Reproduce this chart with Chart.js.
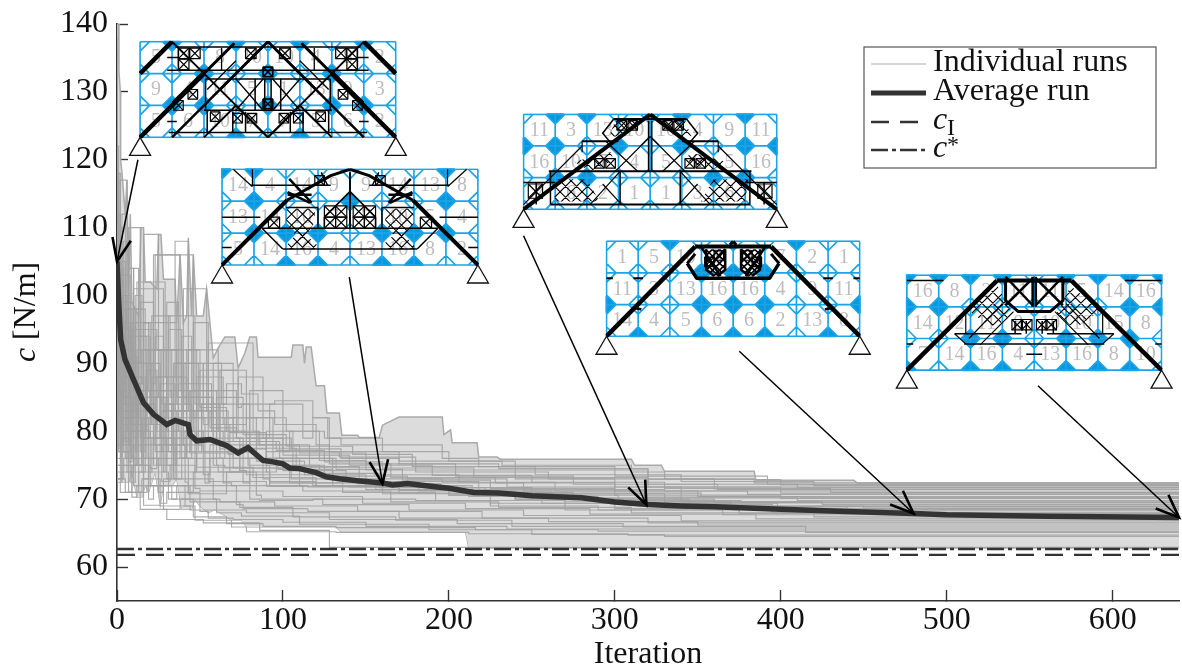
<!DOCTYPE html>
<html>
<head>
<meta charset="utf-8">
<title>Convergence</title>
<script src="https://cdn.jsdelivr.net/npm/chart.js@4"></script>
<style>
  html, body { margin: 0; padding: 0; background: #fff; }
  canvas { display: block; }
</style>
</head>
<body>
<canvas id="chart" width="1182" height="671"></canvas>
<script>
// tick values
const xTicks = [0, 100, 200, 300, 400, 500, 600];
const yTicks = [60, 70, 80, 90, 100, 110, 120, 130, 140];

// envelope of all the runs
const envUpper = [[0,140],[1,140],[1.2,133],[2,130],[2.2,120],[3,118],[5,112],[6,117],[7,100],[8,112],[9,99],[13,97],[14.5,110],[16,110],[17,102],[20,102],[24,101],[25,109],[26.5,109],[28,102.4],[35,102.4],[36,96],[38,106],[40,96],[42,97],[43,108.5],[45,97],[46,106],[48,97],[52,97],[54,101],[56,96],[58,90.8],[61,92.3],[65,93.9],[71,93.9],[73,89.3],[77,91.5],[80,93.9],[84,93.9],[85,90.9],[105,90.9],[106,92.7],[112,92.7],[113,90],[114,92.4],[117,92.4],[120,86.7],[125,86.7],[126.5,82.7],[134,82.7],[135.5,79.4],[145,79.4],[146,79.1],[158,79.1],[160,80.9],[170,82.1],[196,82.1],[197,79.5],[201,80.2],[202,78.3],[217,78.3],[218,76.2],[229,76.2],[231,75.9],[310,75.9],[312,75],[328,75],[330,74.1],[384,74.1],[385,72.8],[444,72.8],[446,72.4],[640,72.4]];
const envLower = [[0,77.5],[2,77.5],[3,72.5],[7,72.5],[9,74],[12,70.3],[15,70.3],[17,72],[19,71],[23,74],[26,69.1],[28,72],[33,72],[36,73],[39,68.5],[45,68.5],[47,70],[50,69],[55,68],[59,68.5],[62,68],[66,67.4],[69,66.9],[75,66.9],[78,65.9],[132,65.9],[135,65.2],[210,65.2],[212,62.8],[640,62.8]];

// individual runs as [iteration, value]
const run01 = [[0,140],[1,104],[3,96],[5,112],[7,93],[14,110],[16,90],[25,109],[27,85],[45,84],[60,83],[78,80],[105,79],[135,77.4],[170,76],[232,75.6],[310,75],[330,74],[384,73],[445,72.4],[640,72.4]];
const run02 = [[0,133],[1,108],[2,118],[3,92],[6,100],[9,88],[20,96],[23,87],[38,106],[40,86],[57,85],[76,81],[102,79.5],[142,77.8],[178,76.6],[252,74.8],[340,73.6],[420,72.6],[500,72],[640,72]];
const run03 = [[0,138],[1,122],[2,100],[6,117],[7,95],[12,90],[29,102],[35,88],[43,108],[45,83],[70,82],[96,78.5],[125,77.2],[160,75.5],[215,74.6],[320,73.2],[410,72.2],[460,71.7],[640,71.7]];
const run04 = [[0,136],[1,118],[2,90],[8,103],[11,86],[24,95],[31,92],[47,97],[50,84],[66,83.5],[86,80],[110,78],[150,76.8],[204,75.2],[275,73.4],[362,72.2],[470,71.4],[640,71.4]];
const run05 = [[0,131],[1,112],[2,95],[5,88],[13,98],[16,86],[36,96],[40,85],[54,101],[56,83],[72,80.5],[100,79],[140,76.5],[190,75],[250,73.5],[330,72.5],[430,71.6],[520,71],[640,71]];
const run06 = [[0,125],[1,110],[2,92],[4,102],[6,85],[18,94],[22,84],[46,106],[48,82],[64,88],[68,81],[90,79.8],[128,77],[165,75.2],[228,73.2],[300,72.4],[380,71.2],[560,70.7],[640,70.7]];
const run07 = [[0,106],[3,89],[7,98],[10,84],[28,101],[35,83],[52,90],[55,81],[82,93],[85,80],[116,78],[155,74.7],[206,73.6],[264,72.5],[350,71.2],[450,70.4],[640,70.4]];
const run08 = [[0,104],[2,86],[9,99],[12,83],[26,92],[30,82],[61,92],[64,80],[98,78.5],[132,76],[172,74.4],[225,72.8],[300,71.6],[400,70.6],[510,70.1],[640,70.1]];
const run09 = [[0,101],[2,88],[4,94],[7,82],[21,90],[24,81],[40,88],[44,80],[72,86],[76,79],[108,77.5],[146,74.8],[196,73],[245,72.4],[318,71.2],[410,70.3],[535,69.8],[640,69.8]];
const run10 = [[0,99],[3,85],[11,92],[13,81],[33,86],[37,80],[58,85],[62,78.5],[90,77.4],[122,75],[158,73.8],[218,72.6],[275,71],[360,70],[480,69.5],[640,69.5]];
const run11 = [[0,97],[2,84],[6,90],[8,80],[17,88],[20,79],[48,86],[51,78],[80,84],[84,77],[113,75.6],[150,73.6],[205,72],[262,71.2],[340,70.2],[425,69.6],[545,69.2],[640,69.2]];
const run12 = [[0,95],[1,83],[10,89],[12,79],[29,85],[33,78],[67,83],[70,76.6],[100,76],[138,74.2],[182,72.6],[240,71.2],[300,70],[398,69.4],[505,68.9],[640,68.9]];
const run13 = [[0,93],[2,82],[5,87],[8,78.5],[23,84],[27,77],[42,83],[45,76],[94,82],[97,75.5],[130,74.4],[170,72],[212,71.3],[290,70.4],[370,69.4],[470,68.6],[640,68.6]];
const run14 = [[0,92],[3,81],[14,86],[17,77],[38,82],[41,76],[60,80],[65,75],[105,74.6],[150,73],[200,71.4],[256,70.6],[332,69.4],[440,68.9],[575,68.3],[640,68.3]];
const run15 = [[0,90],[2,80],[9,85],[11,76],[30,81],[34,75],[74,79],[78,74.2],[118,73.6],[160,72],[225,70.8],[300,69.4],[395,68.6],[520,68],[640,68]];
const run16 = [[0,88],[1,79],[7,84],[9,75.5],[20,80],[24,74.5],[52,78],[56,73.6],[88,76],[92,73],[136,72.4],[192,71],[270,69.8],[365,68.4],[490,67.7],[640,67.7]];
const run17 = [[0,87],[3,78],[12,83],[15,75],[35,79],[39,73],[64,76],[69,72.4],[112,72],[165,71.2],[230,69.6],[310,68.8],[420,68],[565,67.4],[640,67.4]];
const run18 = [[0,86],[2,77.5],[6,81],[10,74],[27,78],[32,72.6],[47,75],[50,71.6],[100,71.2],[148,70.4],[210,69.4],[285,68.6],[385,67.8],[500,67.1],[640,67.1]];
const run19 = [[0,85],[4,77],[16,80],[19,73],[43,76],[46,71],[84,74],[87,70.6],[124,70],[176,69.2],[245,68.4],[340,67.6],[455,66.8],[640,66.8]];
const run20 = [[0,84],[3,76],[8,79],[11,72.5],[25,76],[28,71],[58,73],[62,70],[95,69.6],[145,69],[220,68.2],[320,67.2],[410,66.5],[640,66.5]];
const run21 = [[0,83],[2,75],[10,78],[13,72],[31,74],[36,70],[72,72],[76,69.2],[115,68.6],[170,68.2],[260,67.2],[350,66.7],[490,66.2],[640,66.2]];
const run22 = [[0,82],[3,74],[7,77],[9,71],[19,75],[22,70],[41,72],[44,69],[78,68.4],[128,68],[205,67],[305,66.4],[425,65.9],[640,65.9]];
const run23 = [[0,81],[4,73],[13,76],[15,71],[26,73],[30,69.4],[50,71],[55,68.2],[70,67.2],[100,67],[150,66.6],[235,66],[345,65.6],[640,65.6]];
const run24 = [[0,80],[3,73],[9,75],[12,70.3],[28,72],[38,68.5],[46,70],[66,67.4],[88,66.4],[132,66],[216,65.8],[290,65.5],[400,65.3],[640,65.3]];
const run25 = [[0,79],[3,72.5],[16,74],[26,69.1],[47,69],[69,66.9],[78,65.9],[132,65.2],[212,65.1],[308,64.9],[500,64.7],[640,64.7]];
const run26 = [[0,78],[5,73],[18,71],[33,72],[60,70],[75,68],[110,67.5],[188,66.3],[250,65.5],[330,64.8],[460,64.5],[640,64.5]];
const run27 = [[0,90],[1,82],[8,77],[22,80],[34,75],[55,74],[90,72.6],[140,71.9],[210,71.8],[260,71],[345,70],[450,69],[640,68.7]];
const run28 = [[0,96],[2,84],[15,82],[27,79],[48,77],[82,74.7],[120,73.2],[158,71.9],[222,71.7],[302,70.6],[376,69.8],[530,69.5],[640,69.5]];
const run29 = [[0,100],[1,87],[9,83],[26,81],[44,79],[70,76.8],[104,74.6],[152,72.4],[214,72],[280,70.9],[352,70.9],[412,70.4],[640,70.3]];
const run30 = [[0,108],[2,92],[11,85],[24,83],[52,80],[79,77],[92,75],[156,71.9],[240,71.4],[330,71.4],[470,71.2],[640,71]];
const run31 = [[0,86],[2,75],[14,71],[30,68.5],[52,67],[86,66.5],[128,65.4],[212,62.9],[268,62.9],[640,62.9]];
const run32 = [[0,94],[3,79],[20,75],[44,72],[74,69.6],[106,68.8],[168,67.4],[238,66.9],[318,66],[415,66],[540,65.1],[640,65.1]];
const run33 = [[0,115],[1,95],[3,110],[4,92],[6,108],[7,90],[10,104],[11,89],[15,100],[16,87],[19,96],[21,86],[32,97],[34,85],[41,90],[43,84],[50,92],[52,84],[63,90],[66,84],[75,87],[85,85.5],[95,83],[120,81],[128,78],[170,77],[230,75.2],[320,74.5],[400,72.9],[640,72.1]];
const run34 = [[0,103],[1,90],[2,102],[4,88],[8,100],[9,86],[13,95],[14,84],[22,99],[23,83],[28,94],[30,83],[37,99],[39,82],[45,94],[46,80],[55,96],[58,79],[70,90],[73,80],[88,88],[92,79],[112,84],[118,79],[128,82],[134,77],[180,76.2],[260,74],[360,73],[640,71.5]];
const run35 = [[0,98],[1,85],[4,96],[5,84],[9,92],[11,82],[17,98],[18,80],[26,90],[27,79],[33,92],[34,78],[42,88],[44,77],[60,86],[62,78],[78,89],[80,77],[100,86],[104,77],[122,80],[150,75.7],[240,74.3],[300,73],[400,71.8],[640,70.9]];
const run36 = [[0,107],[1,88],[3,100],[4,86],[7,96],[8,84],[12,91],[13,82],[20,94],[21,81],[30,88],[31,80],[39,95],[40,78],[49,90],[51,77],[62,84],[65,76],[84,82],[90,76],[106,80],[125,75],[175,73.4],[235,73],[340,71.8],[640,70.2]];
const run37 = [[0,91],[1,80],[3,91],[4,79],[7,88],[8,78],[11,96],[12,77],[16,90],[18,76],[24,89],[26,75],[35,87],[36,75],[47,83],[48,74],[68,80],[74,74],[90,78],[96,74],[130,76],[145,73],[195,72.3],[250,71.7],[330,70.8],[640,69.6]];
const run38 = [[0,89],[1,78],[2,88],[3,77],[5,94],[6,76],[10,85],[12,75],[15,88],[17,74],[28,85],[29,74],[34,84],[36,73],[53,82],[56,72.4],[76,78],[80,72.4],[110,76],[115,72],[155,71.8],[200,71.8],[270,70.6],[370,69.7],[640,69]];
const run39 = [[0,102],[1,86],[2,94],[3,83],[6,88],[7,81],[9,93],[10,80],[14,87],[15,79],[22,86],[23,78],[31,85],[33,77],[39,80],[42,76],[58,79],[61,75],[92,74],[120,72.6],[170,71.9],[240,70.9],[305,70],[395,69.2],[640,68.5]];
const run40 = [[0,94],[1,81],[3,86],[4,78],[8,82],[9,76],[13,85],[15,75],[19,82],[21,74],[30,79],[33,73],[41,78],[43,72.5],[66,70.8],[80,74],[86,70],[118,69.8],[180,70],[225,69.8],[290,69],[375,68.4],[640,67.9]];
const run41 = [[0,120],[1,97],[2,108],[3,90],[4,104],[5,87],[7,95],[8,85],[11,90],[12,84],[18,84],[40,92],[42,83],[48,92],[50,83],[73,89],[75,83.5],[95,84],[118,84.5],[127,82],[135,79],[196,78],[218,76],[300,74.8],[392,73.4],[640,72.2]];
const run42 = [[0,128],[1,100],[2,112],[3,96],[5,105],[6,92],[9,98],[10,89],[13,104],[15,87],[20,92],[22,85],[36,92],[37,84],[57,87],[60,80],[76,85],[78,81],[102,82],[125,80],[160,79],[200,77],[240,75.6],[320,74.3],[640,71.8]];
const runs = [run01,run02,run03,run04,run05,run06,run07,run08,run09,run10,run11,run12,run13,run14,run15,run16,run17,run18,run19,run20,run21,run22,run23,run24,run25,run26,run27,run28,run29,run30,run31,run32,run33,run34,run35,run36,run37,run38,run39,run40,run41,run42];

// average over all the runs
const averageRun = [[0,105],[1,99],[2.2,93.5],[4.8,90.6],[10,87.6],[16,84.2],[22,82.5],[30,81],[35,81.6],[43,81],[44,79.5],[48,78.6],[56,78.8],[66,77.9],[73,76.8],[79,77.6],[88,75.7],[94,75.5],[100,75.2],[104,74.6],[110,74.5],[120,73.9],[126,73.3],[134,73],[145,72.7],[160,72.4],[166,72.1],[175,72.3],[185,72],[200,71.6],[215,71],[230,70.9],[250,70.5],[280,70.2],[300,69.6],[320,69.2],[340,69],[360,68.9],[380,68.7],[400,68.5],[440,68.2],[480,67.9],[500,67.7],[560,67.5],[640,67.3]];

const cI = 61.8;
const cStar = 62.65;

// insets: corners in chart units, 8 x 3 cells each
const insetLeft = [13.9, 63.3, 245, 295, 476];
const insetRight = [168, 217.5, 397.6, 447.6, 629.5];
const insetTop = [137.4, 118.6, 126.7, 108, 103];
const insetBottom = [123.3, 104.5, 112.7, 94, 89];

const insetNumbers = [
  [5,4,8,10,10,4,8,2, 9,4,11,5,1,13,9,3, 5,6,10,7,7,5,6,2],
  [14,4,14,9,9,14,13,8, 13,14,10,7,7,10,5,4, 5,14,16,4,13,16,8,2],
  [11,3,13,10,10,4,9,11, 16,10,7,4,5,8,5,16, 7,6,2,1,1,3,6,7],
  [1,5,10,3,3,7,2,1, 11,3,13,16,16,4,9,11, 14,4,5,6,6,2,13,8],
  [16,8,2,11,11,5,14,16, 14,12,11,8,10,10,15,8, 7,14,16,4,13,16,8,10]
];

// grid vertices [col,row] with a solid diamond
const insetDiamonds = [
  [[1,0],[3,0],[5,0],[7,0],[2,1],[4,1],[6,1],[1,2],[2,2],[4,2],[6,2],[7,2],[3,3],[5,3]],
  [[1,0],[7,0],[0,0],[1,1],[4,1],[7,1],[1,2],[2,2],[3,2],[5,2],[6,2],[7,2],[2,3],[3,3],[5,3],[6,3]],
  [[1,0],[2,0],[5,0],[7,0],[0,1],[1,1],[3,1],[5,1],[7,1],[8,1],[1,2],[2,2],[6,2],[7,2]],
  [[2,0],[6,0],[3,1],[4,1],[5,1],[0,2],[3,2],[4,2],[5,2],[8,2],[1,3],[3,3],[4,3],[5,3],[7,3]],
  [[0,0],[1,0],[2,0],[3,0],[5,0],[6,0],[7,0],[8,0],[0,1],[1,1],[7,1],[8,1],[2,2],[3,2],[5,2],[6,2],[7,2],[0,3],[2,3],[3,3],[5,3],[6,3],[7,3]]
];

// truss members, left half only, mirrored about col 4: [width, u,v, u,v, ...]
const insetMembers = [
  [[4.5,0,3,2,1],[3,2,1,2.95,0.05],[4.5,0,1,1,0],[2.5,4,0,1,3],[2.5,4,0,5.5,1.5],[2,1,0,4,3],[2,2,3,3,2,4,3],
   [1.5,1.1,.17,4,.17],[1.5,.85,.9,4,.9],[1.5,2.05,1.17,4,1.17],[1.5,2,2.15,4,2.15],[1.5,.9,2.85,4,2.85],
   [1.5,2.05,1.17,2.05,2.15],[1.5,3.6,1.17,3.6,2.15],[1.5,3.9,1.17,3.9,2.15],[1.5,1.2,.2,1.2,.8],[1.5,2.1,2.15,2.1,2.85],
   [1.5,.85,2.5,1.15,2.5],[1.5,.85,.5,1.2,.5],[1.5,2.9,2.2,2.9,2.85],[1.5,3.3,2.2,3.3,2.85],[1.2,1,1.9,2,.9],
   [1.3,3,1.17,3.85,2.15],[1.3,3.85,1.17,3,2.15],[1.3,2.55,.2,2.55,.9],[1.3,2.1,1.5,3,.6]],
  [[4,0,3,2.03,.97],[3,2.03,.97,3.4,.2,4,0],[2.5,2.05,.72,2.75,1.05],[2.5,2.05,.8,2.8,.8],[2.5,2.1,.3,2.8,1.05],
   [1.5,.9,.5,3.4,.5],[1.5,0,1.5,1.2,1.5],[1.5,0,2.45,.3,2.45],[1.5,1.25,1.85,4,1.85],[1.5,1.9,2.5,4,2.5],
   [1.2,.35,0,.95,.55],[1.2,.95,0,.95,.5],[1.5,1.25,1.85,1.9,2.5],[1.5,3.2,1.5,4,.7],[1.5,3.2,1.5,3.2,1.85],
   [1.5,2,1.2,3,1.2],[1.5,3,1.2,3,1.85],[1.5,3.1,.1,3.3,.5],[1.5,4,.1,4,1.85]],
  [[4,0,3,4,0],[2,2.85,.15,4,.15],[2,1.85,.85,3,.85],[2,.8,1.8,4,1.8],[2,.85,2.85,4,2.85],[1.5,0,2.15,1,2.15],
   [1.5,2.85,.15,2.5,.6,2.8,.95],[1.5,.85,1.8,.85,2.85],[1.2,2.9,1.8,4,.7],[1.2,2.6,.85,3.6,1.8],[1.2,2.1,2.85,3.05,1.8],
   [1.5,3.05,1.8,3.05,2.85],[1.5,.4,2.15,.4,2.85],[1.2,0,2.85,1.85,1],[1.5,3.95,.2,3.95,1.8],[1.2,3.1,2.85,2.5,2.2],[1.2,1.85,.85,1.85,1.2]],
  [[4.5,0,3,2.8,.17],[4,2.8,.17,4,.17],[3.5,2.55,.7,2.85,1.17,4,1.17],[3,2.55,.7,2.8,.4],[2.5,3.15,.25,3.15,.9,3.4,1.1],
   [2.5,3.75,.25,3.75,.9,3.5,1.1],[2.5,3.15,.9,3.75,.25],[2.5,3,.2,3.6,1.1],[2.5,.8,2.1,1.1,2.15],[2,0,1.17,.2,1.17],[2,.85,1.17,1.15,1.17],[3,3.9,.12,4,0]],
  [[4.5,0,3,2.83,.17],[4,2.83,.17,4,.17],[3,3.1,.17,3.1,.8,3.5,1.15,4,1.15],[2.5,3.1,.05,3.95,.95],[2.5,3.95,.1,3.1,.95],
   [2.5,3.95,.05,3.95,1],[1.2,1.95,2,3,.9],[1.2,2.3,2.2,3.35,1.15],[1.5,1.8,2.17,4,2.17],[1.5,0,.17,1.15,.17],[1.5,0,2.17,.2,2.17],
   [1.3,1.5,1.85,3.6,1.85],[1.5,3.75,2.5,4,2.5],[1.2,1.85,1.15,1.85,1.85],[1.2,1.5,1.85,1.85,2.17],[1.5,3.4,1.45,3.4,1.85],[1.5,3.75,1.45,3.75,1.85]]
];

// hatched patches, left half only: list of polygons in cell units
const insetHatch = [
  [],
  [[2.03,1.23,2.9,1.23,2.9,1.65,2.5,2.3,2,1.7],[1.9,2.5,2.45,1.9,3,2.4,2.9,2.5]],
  [[.9,2.05,2,2.05,2.4,2.75,1,2.75],[1.6,1.5,2.75,1.2,2.85,1.45,2.1,1.8],[2.9,.2,3.6,.2,3.2,.7,2.7,.7]],
  [[3.15,.25,3.75,.25,3.75,.9,3.5,1.1,3.4,1.1,3.15,.9]],
  [[1.9,1.1,2.85,.35,3.3,1.2,2.85,1.6,2.6,1.6]]
];

// little squares with a cross, left half only: [u, v, size]
const insetBoxes = [
  [[1.2,.2,.33],[1.55,.2,.33],[1.2,.55,.33],[1.5,1.5,.3],[2.2,2.2,.3],[3.3,.2,.33],[2.9,2.25,.3],[3.35,2.25,.3],[3.85,1.8,.3],[3.85,.8,.3],[1.05,1.85,.3]],
  [[1.45,1.5,.35],[3.2,1.5,.35],[3.55,1.5,.35],[3.2,1.15,.35],[3.55,1.15,.35],[2.9,.2,.3]],
  [[.15,2.2,.45],[3.3,.2,.3],[2.95,.2,.3],[2.6,1.4,.3],[2.25,1.4,.3]],
  [[3.4,.3,.3],[3.1,.5,.3]],
  [[3.3,1.4,.33],[3.6,1.4,.33]]
];

// arrows from the insets to the average curve, [iteration, value]
const arrowFrom = [[12.6,120],[140,102.7],[245,108.8],[375,91.8],[555,86.7]];
const arrowTo = [[0,105],[160,72.3],[319,69.2],[480,67.9],[640,67.3]];

const legendLabels = ['Individual runs', 'Average run', 'c', 'c'];
const serif = "'Liberation Serif', 'Times New Roman', serif";
const ink = '#111';
const grey = '#333';

function toPts(list) {
  return list.map(([x, y]) => ({ x, y }));
}

const datasets = [
  { label: 'envelope', data: toPts(envLower), borderColor: '#aaa', borderWidth: 1.2, pointRadius: 0, order: 30, fill: false },
  { label: 'envelope', data: toPts(envUpper), borderColor: '#aaa', borderWidth: 1.5, pointRadius: 0, order: 29, fill: { target: 0 }, backgroundColor: '#dcdcdc' }
];
runs.forEach((r, i) => {
  datasets.push({
    label: i === 0 ? legendLabels[0] : 'run ' + (i + 1),
    data: toPts(r), stepped: 'after',
    borderColor: 'rgba(160,160,160,0.88)', borderWidth: 1.15, pointRadius: 0, order: 10, fill: false
  });
});
datasets.push({ label: legendLabels[1], data: toPts(averageRun), borderColor: '#333', borderWidth: 5.5, pointRadius: 0, order: 1, fill: false });
datasets.push({ label: 'cI', data: [{ x: 0, y: cI }, { x: 640, y: cI }], borderColor: '#333', borderWidth: 2.4, borderDash: [18, 11], pointRadius: 0, order: 2, fill: false });
datasets.push({ label: 'c*', data: [{ x: 0, y: cStar }, { x: 640, y: cStar }], borderColor: '#333', borderWidth: 2.4, borderDash: [17, 4, 4, 4], pointRadius: 0, order: 2, fill: false });

function drawInset(ctx, chart, n) {
  const xs = chart.scales.x, ys = chart.scales.y;
  const x0 = xs.getPixelForValue(insetLeft[n]), x1 = xs.getPixelForValue(insetRight[n]);
  const y0 = ys.getPixelForValue(insetTop[n]), y1 = ys.getPixelForValue(insetBottom[n]);
  const cw = (x1 - x0) / 8, ch = (y1 - y0) / 3;
  const U = u => x0 + u * cw, V = v => y0 + v * ch;
  const a = 0.3;
  const blue = '#0a97de', lineBlue = '#1ba4e8';

  ctx.save();
  ctx.fillStyle = '#fff';
  ctx.fillRect(x0, y0, x1 - x0, y1 - y0);
  ctx.beginPath();
  ctx.rect(x0 - 1, y0 - 1, x1 - x0 + 2, y1 - y0 + 2);
  ctx.clip();

  ctx.fillStyle = blue;
  insetDiamonds[n].forEach(([i, j]) => {
    ctx.beginPath();
    ctx.moveTo(U(i - a), V(j));
    ctx.lineTo(U(i), V(j - a));
    ctx.lineTo(U(i + a), V(j));
    ctx.lineTo(U(i), V(j + a));
    ctx.closePath();
    ctx.fill();
  });

  ctx.strokeStyle = lineBlue;
  ctx.lineWidth = 1.7;
  ctx.beginPath();
  for (let i = 0; i <= 8; i++) { ctx.moveTo(U(i), V(0)); ctx.lineTo(U(i), V(3)); }
  for (let j = 0; j <= 3; j++) { ctx.moveTo(U(0), V(j)); ctx.lineTo(U(8), V(j)); }
  for (let i = 0; i < 8; i++) {
    for (let j = 0; j < 3; j++) {
      ctx.moveTo(U(i + a), V(j)); ctx.lineTo(U(i), V(j + a));
      ctx.moveTo(U(i + 1 - a), V(j)); ctx.lineTo(U(i + 1), V(j + a));
      ctx.moveTo(U(i), V(j + 1 - a)); ctx.lineTo(U(i + a), V(j + 1));
      ctx.moveTo(U(i + 1), V(j + 1 - a)); ctx.lineTo(U(i + 1 - a), V(j + 1));
    }
  }
  ctx.stroke();

  ctx.fillStyle = '#bdbdbd';
  ctx.font = '20px ' + serif;
  ctx.textAlign = 'center';
  ctx.textBaseline = 'middle';
  insetNumbers[n].forEach((num, k) => {
    ctx.fillText(String(num), U((k % 8) + 0.5), V(Math.floor(k / 8) + 0.52));
  });

  ctx.strokeStyle = '#000';
  ctx.lineJoin = 'round';
  [false, true].forEach(flip => {
    const X = u => U(flip ? 8 - u : u);
    insetHatch[n].forEach(poly => {
      ctx.save();
      ctx.beginPath();
      for (let k = 0; k < poly.length; k += 2) {
        if (k === 0) ctx.moveTo(X(poly[k]), V(poly[k + 1]));
        else ctx.lineTo(X(poly[k]), V(poly[k + 1]));
      }
      ctx.closePath();
      ctx.clip();
      ctx.lineWidth = n === 3 ? 1.6 : 1.1;
      ctx.beginPath();
      const step = n === 3 ? 7 : 11;
      for (let d = -140; d < 400; d += step) {
        ctx.moveTo(x0 + d, y0); ctx.lineTo(x0 + d + 100, y1 + 5);
        ctx.moveTo(x0 + d + 100, y0); ctx.lineTo(x0 + d, y1 + 5);
      }
      ctx.stroke();
      ctx.restore();
    });
    insetBoxes[n].forEach(([u, v, s]) => {
      const ux = flip ? 8 - u - s : u;
      ctx.lineWidth = 1.2;
      ctx.strokeRect(U(ux), V(v), s * cw, s * ch);
      ctx.beginPath();
      ctx.moveTo(U(ux), V(v)); ctx.lineTo(U(ux + s), V(v + s));
      ctx.moveTo(U(ux + s), V(v)); ctx.lineTo(U(ux), V(v + s));
      ctx.stroke();
    });
    insetMembers[n].forEach(m => {
      ctx.lineWidth = m[0];
      ctx.beginPath();
      ctx.moveTo(X(m[1]), V(m[2]));
      for (let k = 3; k < m.length; k += 2) ctx.lineTo(X(m[k]), V(m[k + 1]));
      ctx.stroke();
    });
  });
  ctx.restore();

  // supports
  [x0, x1].forEach(px => {
    ctx.beginPath();
    ctx.moveTo(px, y1);
    ctx.lineTo(px - 10.5, y1 + 18);
    ctx.lineTo(px + 10.5, y1 + 18);
    ctx.closePath();
    ctx.lineWidth = 1.3;
    ctx.strokeStyle = '#111';
    ctx.stroke();
  });
}

function drawArrow(ctx, chart, n) {
  const xs = chart.scales.x, ys = chart.scales.y;
  const ax = xs.getPixelForValue(arrowFrom[n][0]), ay = ys.getPixelForValue(arrowFrom[n][1]);
  const bx = xs.getPixelForValue(arrowTo[n][0]), by = ys.getPixelForValue(arrowTo[n][1]);
  const ang = Math.atan2(ay - by, ax - bx);
  const len = 25, spread = 22 * Math.PI / 180;
  ctx.strokeStyle = '#000';
  ctx.lineWidth = 1.5;
  ctx.beginPath();
  ctx.moveTo(ax, ay);
  ctx.lineTo(bx, by);
  ctx.stroke();
  ctx.lineWidth = 2.6;
  ctx.beginPath();
  ctx.moveTo(bx + len * Math.cos(ang + spread), by + len * Math.sin(ang + spread));
  ctx.lineTo(bx, by);
  ctx.lineTo(bx + len * Math.cos(ang - spread), by + len * Math.sin(ang - spread));
  ctx.stroke();
}

function drawLegend(ctx) {
  ctx.save();
  ctx.strokeStyle = '#555';
  ctx.lineWidth = 1.2;
  ctx.fillStyle = '#fff';
  ctx.fillRect(864, 47, 292, 121);
  ctx.strokeRect(864, 47, 292, 121);

  ctx.strokeStyle = '#aaa';
  ctx.lineWidth = 1.2;
  ctx.beginPath(); ctx.moveTo(871, 64); ctx.lineTo(926, 64); ctx.stroke();
  ctx.strokeStyle = '#333';
  ctx.lineWidth = 5;
  ctx.beginPath(); ctx.moveTo(871, 93); ctx.lineTo(926, 93); ctx.stroke();
  ctx.lineWidth = 2.4;
  ctx.setLineDash([18, 11]);
  ctx.beginPath(); ctx.moveTo(871, 122); ctx.lineTo(926, 122); ctx.stroke();
  ctx.setLineDash([17, 4, 4, 4]);
  ctx.beginPath(); ctx.moveTo(871, 150); ctx.lineTo(926, 150); ctx.stroke();
  ctx.setLineDash([]);

  ctx.fillStyle = ink;
  ctx.textAlign = 'left';
  ctx.textBaseline = 'alphabetic';
  ctx.font = '32px ' + serif;
  ctx.fillText(legendLabels[0], 933, 71);
  ctx.fillText(legendLabels[1], 933, 100);
  ctx.font = 'italic 32px ' + serif;
  ctx.fillText(legendLabels[2], 933, 129);
  ctx.fillText(legendLabels[3], 933, 157);
  ctx.font = '24px ' + serif;
  ctx.fillText('I', 947, 135);
  ctx.fillText('*', 947, 152);
  ctx.restore();
}

const overlay = {
  id: 'overlay',
  afterDraw(chart) {
    const ctx = chart.ctx;
    ctx.save();
    for (let n = 0; n < insetLeft.length; n++) drawArrow(ctx, chart, n);
    for (let n = 0; n < insetLeft.length; n++) drawInset(ctx, chart, n);
    drawLegend(ctx);

    // y axis title has an italic c, so it is set by hand
    ctx.translate(35, 362);
    ctx.rotate(-Math.PI / 2);
    ctx.fillStyle = ink;
    ctx.textAlign = 'left';
    ctx.textBaseline = 'alphabetic';
    ctx.font = 'italic 32px ' + serif;
    ctx.fillText('c', 0, 0);
    ctx.font = '32px ' + serif;
    ctx.fillText(' [N/m]', 14, 0);
    ctx.restore();
  }
};

new Chart(document.getElementById('chart').getContext('2d'), {
  type: 'line',
  data: { datasets },
  plugins: [overlay],
  options: {
    responsive: false,
    animation: false,
    layout: { padding: { top: 24, right: 3, left: 0, bottom: 0 } },
    plugins: { legend: { display: false }, tooltip: { enabled: false }, title: { display: false } },
    scales: {
      x: {
        type: 'linear', min: 0, max: 640,
        afterBuildTicks(scale) { scale.ticks = xTicks.map(value => ({ value })); },
        afterFit(scale) { scale.height = 70; scale.paddingLeft = 0; scale.paddingRight = 0; },
        border: { color: grey, width: 1.6 },
        grid: { drawOnChartArea: false, tickLength: -11, tickColor: grey, tickWidth: 1.4 },
        ticks: { color: ink, padding: 11, autoSkip: false, maxRotation: 0, font: { family: serif, size: 32 } },
        title: { display: true, text: 'Iteration', color: ink, padding: { top: 0, bottom: 0 }, font: { family: serif, size: 32, lineHeight: 1 } }
      },
      y: {
        min: 55, max: 140,
        afterBuildTicks(scale) { scale.ticks = yTicks.map(value => ({ value })); },
        afterFit(scale) { scale.width = 117; scale.paddingTop = 0; scale.paddingBottom = 0; },
        border: { color: grey, width: 1.6 },
        grid: { drawOnChartArea: false, tickLength: -11, tickColor: grey, tickWidth: 1.4 },
        ticks: { color: ink, padding: 20, autoSkip: false, font: { family: serif, size: 32 } }
      }
    }
  }
});
</script>
</body>
</html>
